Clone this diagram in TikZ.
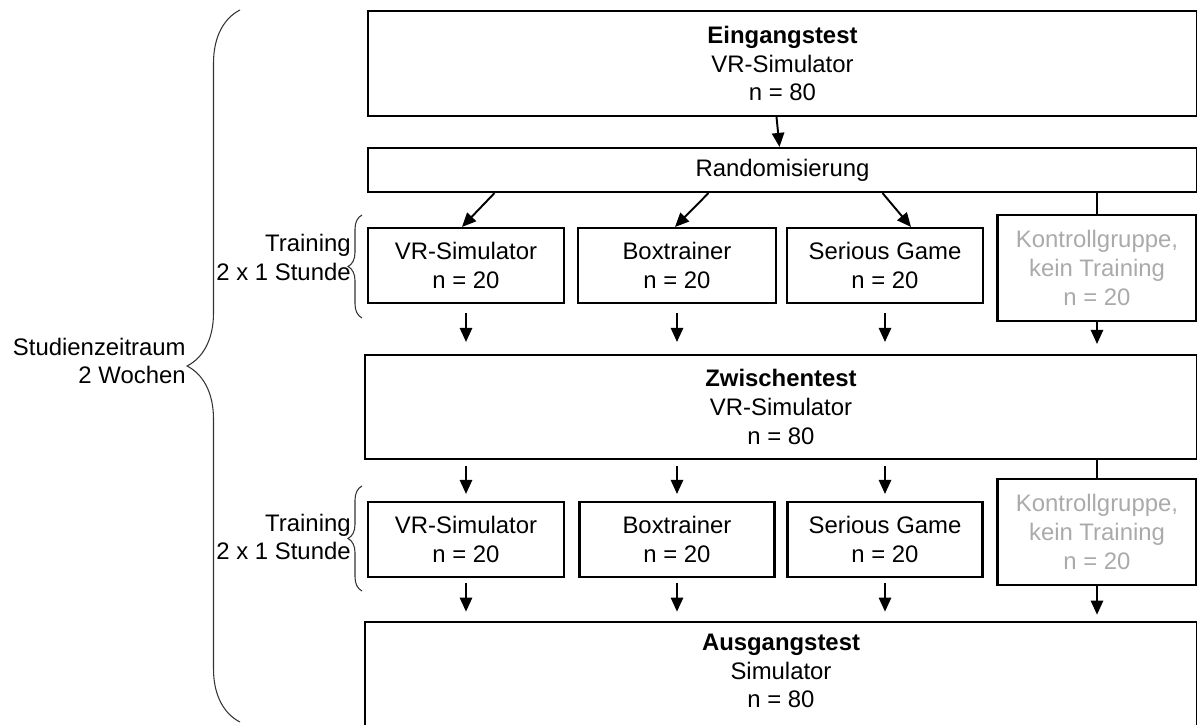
\documentclass[tikz,border=0pt]{standalone}
\usepackage{fontspec}
\setmainfont{Liberation Sans}
\usetikzlibrary{calc,arrows.meta,decorations.pathreplacing}
\definecolor{ctrlgray}{RGB}{170,170,170}
\begin{document}
\begin{tikzpicture}[x=0.02cm,y=-0.02cm,
  font=\fontsize{13.6}{16.4}\selectfont,
  box/.style={draw=black,line width=1.2pt,inner sep=0pt,align=center},
  ctrl/.style={box,font={\fontsize{13.6}{16.4}\selectfont\color{ctrlgray}}},
  lbl/.style={inner sep=0pt,align=right,anchor=east},
  arr/.style={line width=1.1pt,-{Triangle[width=7pt,length=8pt]}},
  ln/.style={line width=1.1pt},
  brc/.style={decorate,decoration={brace,amplitude=#1},line width=0.6pt,draw=black!80}
]
\useasboundingbox (0,0) rectangle (1197,724);

% main boxes
\node[box,minimum width=16.58cm,minimum height=2.1cm] (ein) at (782.5,63.5)
  {\textbf{Eingangstest}\\VR-Simulator\\n = 80};
\node[box,minimum width=16.58cm,minimum height=0.88cm] (rand) at (782.5,170) {Randomisierung};

% first training row
\node[box,minimum width=3.92cm,minimum height=1.5cm] (a1) at (466,265.5) {VR-Simulator\\n = 20};
\node[box,minimum width=3.96cm,minimum height=1.5cm] (a2) at (677,265.5) {Boxtrainer\\n = 20};
\node[box,minimum width=3.92cm,minimum height=1.5cm] (a3) at (885,265.5) {Serious Game\\n = 20};
\node[ctrl,minimum width=3.98cm,minimum height=2.12cm] (a4) at (1097,268) {Kontrollgruppe,\\kein Training\\n = 20};

\node[box,minimum width=16.64cm,minimum height=2.08cm] (zw) at (781,407)
  {\textbf{Zwischentest}\\VR-Simulator\\n = 80};

% second training row
\node[box,minimum width=3.92cm,minimum height=1.5cm] (b1) at (466,539.5) {VR-Simulator\\n = 20};
\node[box,minimum width=3.9cm,minimum height=1.5cm] (b2) at (677,539.5) {Boxtrainer\\n = 20};
\node[box,minimum width=3.9cm,minimum height=1.5cm] (b3) at (885,539.5) {Serious Game\\n = 20};
\node[ctrl,minimum width=3.98cm,minimum height=2.12cm] (b4) at (1097,532) {Kontrollgruppe,\\kein Training\\n = 20};

\node[inner sep=0pt,align=center,minimum width=16.64cm,minimum height=1.96cm] (aus) at (781,671)
  {\textbf{Ausgangstest}\\Simulator\\n = 80};
\draw[line width=1.2pt] ([yshift=-0.3cm]aus.south west) -- (aus.north west) -- (aus.north east) -- ([yshift=-0.3cm]aus.south east);

% connectors
\draw[arr] ($(ein.south)+(-6,0)$) -- ($(rand.north)+(-3,0)$);
\draw[arr] ($(rand.south)+(-288,0)$) -- ($(a1.north)+(-4,0)$);
\draw[arr] ($(rand.south)+(-74,0)$) -- ($(a2.north)+(-2,0)$);
\draw[arr] ($(rand.south)+(100,0)$) -- ($(a3.north)+(26,0)$);
\draw[ln] (rand.south -| a4.north) -- (a4.north);

\foreach \n in {a1,a2,a3}{
  \draw[arr,shorten <=0.18cm,shorten >=0.24cm] (\n.south) -- (\n.south |- zw.north);
}
\draw[arr,shorten >=0.2cm] (a4.south) -- (a4.south |- zw.north);

\foreach \n in {b1,b2,b3}{
  \draw[arr,shorten <=0.12cm,shorten >=0.14cm] (zw.south -| \n.north) -- (\n.north);
}
\draw[ln] (zw.south -| b4.north) -- (b4.north);

\foreach \n in {b1,b2,b3}{
  \draw[arr,shorten <=0.1cm,shorten >=0.2cm] (\n.south) -- (\n.south |- aus.north);
}
\draw[arr,shorten >=0.14cm] (b4.south) -- (b4.south |- aus.north);

% braces and side labels
\draw[brc=1.06cm] (240,722) -- (240,10);
\draw[brc=0.28cm] (362,318) -- (362,215);
\draw[brc=0.28cm] (362,591) -- (362,486);

\node[lbl] (stud) at (186,361) {Studienzeitraum\\2 Wochen};
\node[lbl] (tr1) at (351,257.5) {Training\\2 x 1 Stunde};
\node[lbl] (tr2) at (351,537) {Training\\2 x 1 Stunde};
\end{tikzpicture}
\end{document}
